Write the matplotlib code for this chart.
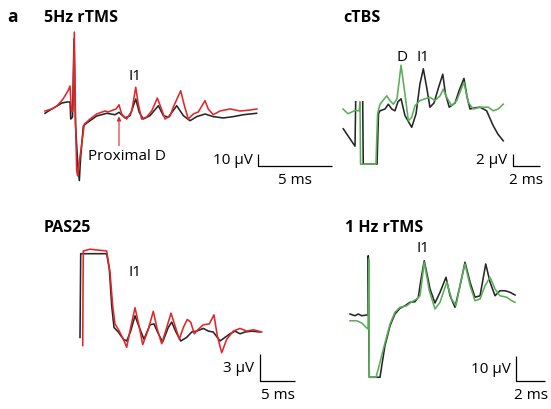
import matplotlib.pyplot as plt
import numpy as np

plt.rcParams['font.family'] = ['Open Sans', 'DejaVu Sans']

# ---- data: time in ms, amplitude in uV ----
# 5Hz rTMS (black = baseline, red = after)
rtms5_t_blk = [0.00, 0.34, 0.81, 1.15, 1.49, 1.69, 1.74, 1.86, 1.96, 2.06, 2.23, 2.32, 2.40, 2.59,
               2.82, 3.49, 4.17, 4.73, 5.00, 5.41, 5.74, 6.13, 6.37, 6.64, 7.09, 7.66, 8.00, 8.33,
               8.90, 9.35, 9.80, 10.25, 10.81, 11.37, 12.05, 12.72, 13.40, 14.30]
rtms5_v_blk = [-1.9, 0.8, 4.2, 6.7, 7.5, 7.5, -6.7, -5.0, 60.0, -10.8, -48.0, -58.0, -40.0, -12.5,
               -10.0, -4.2, -1.9, -3.1, -1.1, -5.8, -3.9, 10.0, -1.1, -6.7, -3.9, 4.4, -3.9, -5.2,
               4.4, -3.9, -8.1, -4.7, -2.5, -4.7, -5.8, -4.7, -3.1, -1.9]
rtms5_t_red = [0.00, 0.47, 0.81, 1.22, 1.55, 1.69, 1.79, 1.89, 1.98, 2.06, 2.14, 2.21, 2.30, 2.48,
               2.66, 2.82, 3.04, 3.49, 4.05, 4.28, 4.59, 4.80, 5.00, 5.18, 5.52, 5.86, 6.13, 6.30,
               6.53, 6.87, 7.21, 7.59, 7.82, 8.11, 8.45, 8.67, 9.17, 9.39, 9.68, 10.02, 10.36,
               10.81, 11.03, 11.37, 11.82, 12.50, 13.18, 13.85, 14.32]
rtms5_v_red = [0.0, 1.7, 4.2, 10.0, 16.7, 20.8, -0.8, 0.0, 65.8, -6.7, -50.0, -54.0, -44.0, -27.5,
               -10.8, -9.2, -6.7, -2.5, 0.0, -0.8, 0.8, 1.7, 5.2, -2.5, -6.7, 0.0, 19.8, 5.8,
               -6.7, -5.0, 0.0, 10.8, 3.3, -6.7, -4.2, 3.3, 16.9, 5.8, -6.7, -2.5, -0.8,
               8.6, 1.7, -3.1, 0.0, 1.7, 0.0, 0.8, 1.7]

# cTBS (black = baseline, green = after); nan = gap in the artefact
ctbs_t_blk = [0.02, 0.44, 0.89, 0.94, np.nan, 1.46, 1.50, 2.52, 2.63, 2.74, 3.11, 3.36, 3.61, 3.85,
              4.07, 4.30, 4.59, 5.09, 5.41, 5.70, 5.95, 6.19, 6.44, 6.74, 7.04, 7.39, 7.59, 7.87,
              8.30, 8.59, 8.96, 9.19, 9.41, 9.78, 10.15, 10.64, 11.13, 11.48, 11.87]
ctbs_v_blk = [-3.3, -4.7, -6.2, 1.2, np.nan, 1.2, -9.2, -9.2, -0.8, -0.3, 0.0, 0.8, 0.0, -0.3,
              1.2, 1.7, -1.1, -3.05, -0.8, 4.2, 6.7, 3.7, 0.3, 1.0, 3.3, 5.8, 2.5, 0.3,
              1.0, 3.0, 5.1, 2.0, 0.0, 0.2, 0.3, -0.3, -2.8, -4.2, -5.3]
ctbs_t_grn = [0.00, 0.37, 0.89, 1.19, 1.26, 1.30, 2.44, 2.56, 2.74, 3.24, 3.48, 3.73, 4.00, 4.30,
              4.59, 4.84, 5.09, 5.33, 5.70, 6.07, 6.44, 6.81, 7.19, 7.43, 7.68, 8.05, 8.42, 8.96,
              9.28, 9.65, 10.15, 10.76, 11.13, 11.50, 11.87]
ctbs_v_grn = [0.0, -0.8, -0.25, -0.3, 1.2, -9.2, -9.2, -0.8, 0.8, 2.2, 1.4, 0.8, 1.7, 7.3,
              2.5, -1.95, -1.4, 0.55, 1.4, 1.7, 1.95, 1.4, 2.2, 3.3, 1.95, 0.55, 1.4, 4.45,
              1.1, 0.0, 0.3, 0.3, -0.3, 0.0, 0.8]

# PAS25 (black = baseline, red = after)
pas_t_blk = [0.00, 0.10, 3.81, 4.19, 4.53, 4.86, 5.47, 6.19, 6.67, 7.24, 7.86, 8.57, 9.14, 10.00,
             10.57, 11.19, 11.81, 12.61, 13.10, 13.71, 14.39, 15.24, 15.96, 16.67, 17.61, 18.33,
             19.04, 20.00, 20.71, 21.43, 22.14, 22.86, 23.57, 24.53, 25.71]
pas_v_blk = [-0.6, 8.7, 8.7, 7.0, 2.9, 0.5, 0.0, -0.8, -1.0, 0.1, 1.8, 0.3, -0.8, 0.8,
             0.9, -0.2, -1.1, 0.5, 1.1, 0.0, -1.0, -0.6, 0.0, 0.1, 0.4, 0.1,
             0.0, -1.0, -0.6, -0.2, 0.1, -0.2, 0.0, 0.1, 0.0]
pas_t_red = [0.39, 0.43, 0.47, 1.43, 3.81, 4.29, 4.67, 5.00, 5.61, 6.19, 6.67, 7.29, 7.86, 8.43,
             8.96, 9.76, 10.47, 11.04, 11.67, 12.39, 13.00, 13.57, 14.19, 14.76, 15.33, 15.81,
             16.33, 16.90, 17.61, 18.47, 19.14, 19.61, 20.24, 20.96, 21.90, 22.86, 23.81, 24.76,
             25.96]
pas_v_red = [-1.5, 4.8, 9.0, 9.2, 9.0, 6.6, 2.9, 0.9, 0.1, -0.8, -1.7, 0.7, 2.7, 0.7,
             -1.4, 0.3, 2.3, 0.3, -1.3, 0.5, 2.1, 0.7, -0.8, 0.5, 1.4, 1.1,
             -0.2, 0.3, 0.8, 0.9, 1.9, -0.4, -2.3, -0.8, 0.1, 0.4, 0.1, 0.25,
             0.0]

# 1 Hz rTMS (black = baseline, green = after)
rtms1_t_blk = [0.00, 0.34, 0.57, 0.81, 1.15, 1.24, 1.26, 1.33, 2.07, 2.19, 2.41, 2.76, 3.10, 3.45,
               3.79, 4.14, 4.48, 4.71, 4.90, 5.12, 5.31, 5.52, 5.86, 6.21, 6.62, 6.90, 7.24, 7.59,
               7.93, 8.28, 8.62, 8.97, 9.36, 9.66, 10.00, 10.34, 10.69, 11.03, 11.38]
rtms1_v_blk = [0.4, -0.3, 0.4, -0.3, 0.0, 0.0, 23.7, -24.9, -24.9, -20.3, -12.3, -4.3, 0.4, 2.7,
               3.7, 5.1, 5.3, 7.1, 14.4, 21.7, 16.4, 10.4, 4.8, 9.1, 15.1, 7.7, 3.1, 11.7,
               21.1, 13.1, 7.1, 7.7, 20.4, 13.1, 7.7, 9.7, 9.7, 9.1, 8.0]
rtms1_t_grn = [0.00, 0.46, 0.81, 1.10, 1.24, 1.29, 1.33, 1.79, 1.95, 2.30, 2.76, 3.10, 3.45, 3.91,
               4.26, 4.60, 4.83, 5.12, 5.47, 5.86, 6.21, 6.67, 7.01, 7.31, 7.63, 7.93, 8.28, 8.62,
               8.97, 9.31, 9.66, 10.00, 10.34, 10.81, 11.15, 11.38]
rtms1_v_grn = [-2.3, -2.3, -3.2, -4.9, -5.6, 22.4, -24.9, -24.9, -21.6, -13.6, -3.6, 1.1, 3.1, 3.7,
               5.3, 6.4, 7.7, 21.1, 9.7, 2.4, 5.1, 13.1, 6.4, 3.7, 13.1, 20.4, 11.7, 5.7,
               6.4, 11.7, 15.1, 10.4, 7.7, 7.1, 5.7, 5.1]

RED = '#e2262b'
GREEN = '#5aae5a'
BLACK = '#262626'

W, H = 551, 410
fig = plt.figure(figsize=(W / 100, H / 100), dpi=100)
fig.set_facecolor('white')


def make_panel(box, origin, px_ms, px_uv):
    # box = (left, top, right, bottom) in figure pixels, origin = pixel of (0 ms, 0 uV)
    l, t, r, b = box
    x0, y0 = origin
    ax = fig.add_axes([l / W, 1 - b / H, (r - l) / W, (b - t) / H])
    ax.set_xlim((l - x0) / px_ms, (r - x0) / px_ms)
    ax.set_ylim((y0 - b) / px_uv, (y0 - t) / px_uv)
    ax.axis('off')
    return ax


def trace(ax, t, v, c):
    ax.plot(t, v, color=c, lw=1.15, solid_joinstyle='round')


def scale_bar(ax, t, v, ms, uv, uv_lab, ms_lab):
    ax.plot([t, t, t + ms], [v + uv, v, v], color='black', lw=0.9, solid_capstyle='butt')
    ax.annotate(uv_lab, xy=(t, v + uv / 2), xytext=(-4, 0), textcoords='offset points',
                ha='right', va='center', fontsize=11)
    ax.annotate(ms_lab, xy=(t + ms / 2, v), xytext=(0, -10), textcoords='offset points',
                ha='center', va='center', fontsize=11)


def title(x, y, s, size=11.5):
    fig.text(x / W, 1 - y / H, s, fontsize=size, fontweight='bold', ha='left', va='center')


title(7, 17, 'a', 12.5)

# 5Hz rTMS
ax1 = make_panel((30, 25, 345, 195), (45, 112), 14.8, 1.2)
trace(ax1, rtms5_t_blk, rtms5_v_blk, BLACK)
trace(ax1, rtms5_t_red, rtms5_v_red, RED)
ax1.annotate('', xy=(5.0, -4.5), xytext=(5.0, -29), arrowprops=dict(arrowstyle='-|>', color=RED,
             lw=0.8, mutation_scale=6, shrinkA=0, shrinkB=0))
ax1.text(2.9, -37.5, 'Proximal D', fontsize=11, ha='left', va='center')
ax1.text(6.08, 30, 'I1', fontsize=11, ha='center', va='center')
scale_bar(ax1, 14.39, -45.8, 5, 10, '10 µV', '5 ms')
title(44, 18, '5Hz rTMS')

# cTBS
ax2 = make_panel((335, 40, 551, 195), (343, 110), 13.5, 6.0)
trace(ax2, ctbs_t_blk, ctbs_v_blk, BLACK)
trace(ax2, ctbs_t_grn, ctbs_v_grn, GREEN)
ax2.text(4.35, 8.75, 'D', fontsize=11, ha='center', va='center')
ax2.text(5.93, 8.75, 'I1', fontsize=11, ha='center', va='center')
scale_bar(ax2, 12.59, -9.5, 2, 2, '2 µV', '2 ms')
title(343, 18, 'cTBS')

# PAS25
ax3 = make_panel((60, 240, 335, 410), (80, 333), 7.0, 9.0)
trace(ax3, pas_t_blk, pas_v_blk, BLACK)
trace(ax3, pas_t_red, pas_v_red, RED)
ax3.text(7.86, 6.7, 'I1', fontsize=11, ha='center', va='center')
scale_bar(ax3, 25.71, -5.44, 5, 3, '3 µV', '5 ms')
title(44, 228, 'PAS25')

# 1 Hz rTMS
ax4 = make_panel((340, 240, 551, 410), (350, 316), 14.5, 2.5)
trace(ax4, rtms1_t_blk, rtms1_v_blk, BLACK)
trace(ax4, rtms1_t_grn, rtms1_v_grn, GREEN)
ax4.text(5.03, 26.8, 'I1', fontsize=11, ha='center', va='center')
scale_bar(ax4, 11.45, -26.4, 2, 10, '10 µV', '2 ms')
title(345, 228, '1 Hz rTMS')

plt.savefig('out.png', dpi=100)
